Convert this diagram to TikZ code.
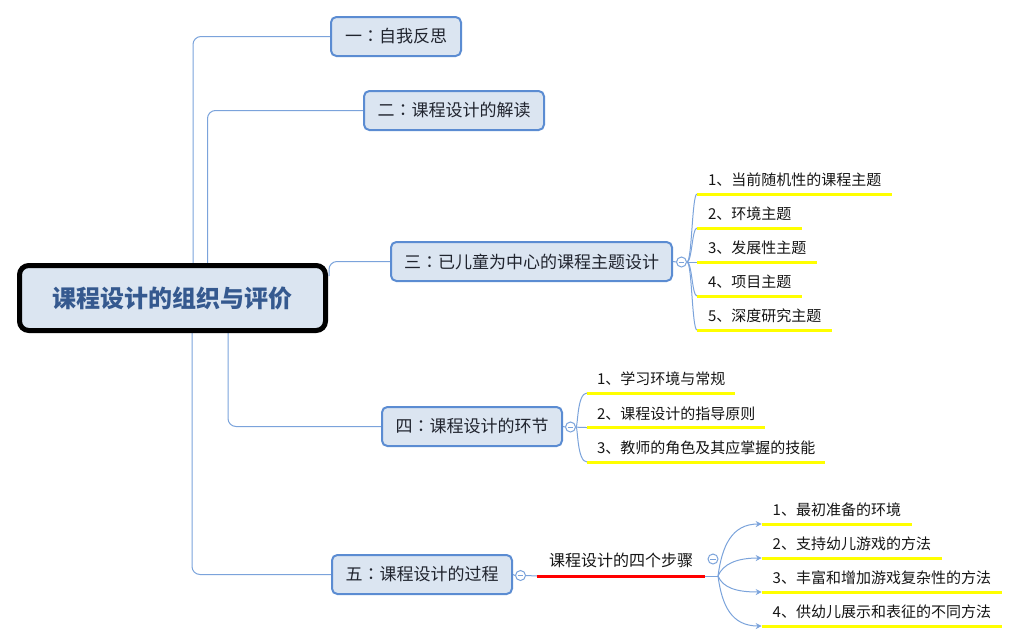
\documentclass[tikz,border=0pt]{standalone}
\usepackage{fontspec}
\setmainfont{Noto Sans CJK SC}
\newfontfamily\tcfont{Noto Sans CJK TC}
\newcommand{\cln}{{\tcfont ：}}
\usetikzlibrary{arrows.meta,calc}
\pgfdeclarelayer{bg}
\pgfsetlayers{bg,main}
\definecolor{boxfill}{HTML}{DBE5F1}
\definecolor{boxline}{HTML}{5B8CD2}
\definecolor{conncol}{HTML}{7BA3DB}
\definecolor{roottext}{HTML}{35598F}
\definecolor{boxtext}{HTML}{20242E}
\definecolor{ulyellow}{HTML}{FFFF00}
\definecolor{itemtext}{HTML}{151515}
\begin{document}
\begin{tikzpicture}[x=0.75pt,y=-0.75pt,
  conn/.style={draw=conncol,line width=0.75pt},
  rootbox/.style={draw=black,line width=3.75pt,fill=boxfill,rounded corners=7pt,
    minimum width=229.5pt,minimum height=48.75pt,inner sep=0pt,text=roottext,
    font=\fontsize{18}{20}\selectfont\bfseries},
  bbox/.style={draw=boxline,line width=1.5pt,fill=boxfill,rounded corners=4pt,
    minimum height=29.25pt,inner sep=0pt,text=boxtext,
    font=\fontsize{12.75}{15}\selectfont},
  coll/.style={circle,draw=conncol,fill=white,line width=0.75pt,minimum size=7.5pt,
    inner sep=0pt,
    path picture={\draw[conncol,line width=0.6pt]
      ([xshift=-2.2pt]path picture bounding box.center) --
      ([xshift=2.2pt]path picture bounding box.center);}},
  item/.style={anchor=south west,inner xsep=8.25pt,inner ysep=6.2pt,outer sep=0pt,
    text height=0.85em,text depth=0pt,text=itemtext,
    font=\fontsize{11.25}{13}\selectfont},
  itemb/.style={item,inner xsep=7.5pt},
  uline/.style={draw=ulyellow,line width=2.25pt},
  redline/.style={draw=red,line width=2.25pt},
  tip/.style={-{Stealth[length=4.5pt,width=4.5pt]}}
]
\useasboundingbox (0,0) rectangle (1021,643);

% root and main branches
\node[rootbox] (root) at (172.5,298) {课程设计的组织与评价};
\node[bbox,minimum width=97.5pt] (b1) at (396,36.5) {一\cln 自我反思};
\node[bbox,minimum width=135pt] (b2) at (454,110.5) {二\cln 课程设计的解读};
\node[bbox,minimum width=210.75pt] (b3) at (531.5,261.5) {三\cln 已儿童为中心的课程主题设计};
\node[bbox,minimum width=135pt] (b4) at (472,426.5) {四\cln 课程设计的环节};
\node[bbox,minimum width=135pt] (b5) at (422,574.5) {五\cln 课程设计的过程};

% collapse markers
\node[coll] (k3) at (681.5,262) {};
\node[coll] (k4) at (570.5,427) {};
\node[coll] (k5) at (520.5,575.5) {};
\node[coll] (k5b) at (713,559) {};

% branch 3 items
\node[item] (i31) at (697,194) {1、当前随机性的课程主题};
\node[item] (i32) at (697,228) {2、环境主题};
\node[item] (i33) at (697,262) {3、发展性主题};
\node[item] (i34) at (697,296) {4、项目主题};
\node[item] (i35) at (697,330) {5、深度研究主题};

% branch 4 items
\node[itemb] (i41) at (587,393) {1、学习环境与常规};
\node[itemb] (i42) at (587,427.5) {2、课程设计的指导原则};
\node[itemb] (i43) at (587,462) {3、教师的角色及其应掌握的技能};

% branch 5
\node[anchor=south west,minimum width=126pt,inner xsep=0pt,inner ysep=7.4pt,
  outer sep=0pt,text height=0.85em,text depth=0pt,text=itemtext,
  font=\fontsize{12}{14}\selectfont] (s5) at (537,576) {课程设计的四个步骤};
\coordinate (f5) at (718,576);
\node[item] (i51) at (761.7,524) {1、最初准备的环境};
\node[item] (i52) at (761.7,558) {2、支持幼儿游戏的方法};
\node[item] (i53) at (761.7,592) {3、丰富和增加游戏复杂性的方法};
\node[item] (i54) at (761.7,626) {4、供幼儿展示和表征的不同方法};

% underlines
\foreach \n in {i31,i32,i33,i34,i35,i41,i42,i43,i51,i52,i53,i54}
  \draw[uline] (\n.south west) -- (\n.south east);
\draw[redline] (s5.south west) -- (s5.south east);

\begin{pgfonlayer}{bg}
  \coordinate (v1) at (193,0);
  \coordinate (v2) at (207.5,0);
  \coordinate (v4) at (228,0);
  \coordinate (v5) at (192,0);
  \coordinate (c3) at (329,276);
  \draw[conn,rounded corners=6pt] (root.center -| v1) |- (b1.west);
  \draw[conn,rounded corners=6pt] (root.center -| v2) |- (b2.west);
  \draw[conn,rounded corners=6pt] (c3) |- (b3.west);
  \draw[conn,rounded corners=6pt] (root.center -| v4) |- (b4.west);
  \draw[conn,rounded corners=6pt] (root.center -| v5) |- (b5.west);

  \draw[conn] (b3.east) -- (k3.west);
  \draw[conn] (b4.east) -- (k4.west);
  \draw[conn] (b5.east) -- (k5.west);

  \foreach \n in {i31,i32,i34,i35}
    \draw[conn] (k3.east) .. controls +(5,0) and +(-5,0) .. (\n.south west);
  \draw[conn] (k3.east) -- (i33.south west);

  \foreach \n in {i41,i42,i43}
    \draw[conn] (k4.east) .. controls +(2,0) and +(-10,0) .. (\n.south west);

  \draw[conn] (k5.east) -- (s5.south west);
  \draw[conn] (s5.south east) -- (f5);
  \draw[conn,tip] (f5) .. controls +(4,-30) and +(-30,0) .. (i51.south west);
  \draw[conn,tip] (f5) .. controls +(5,-12) and +(-25,0) .. (i52.south west);
  \draw[conn,tip] (f5) .. controls +(5,12) and +(-25,0) .. (i53.south west);
  \draw[conn,tip] (f5) .. controls +(4,30) and +(-30,0) .. (i54.south west);
\end{pgfonlayer}
\end{tikzpicture}
\end{document}
